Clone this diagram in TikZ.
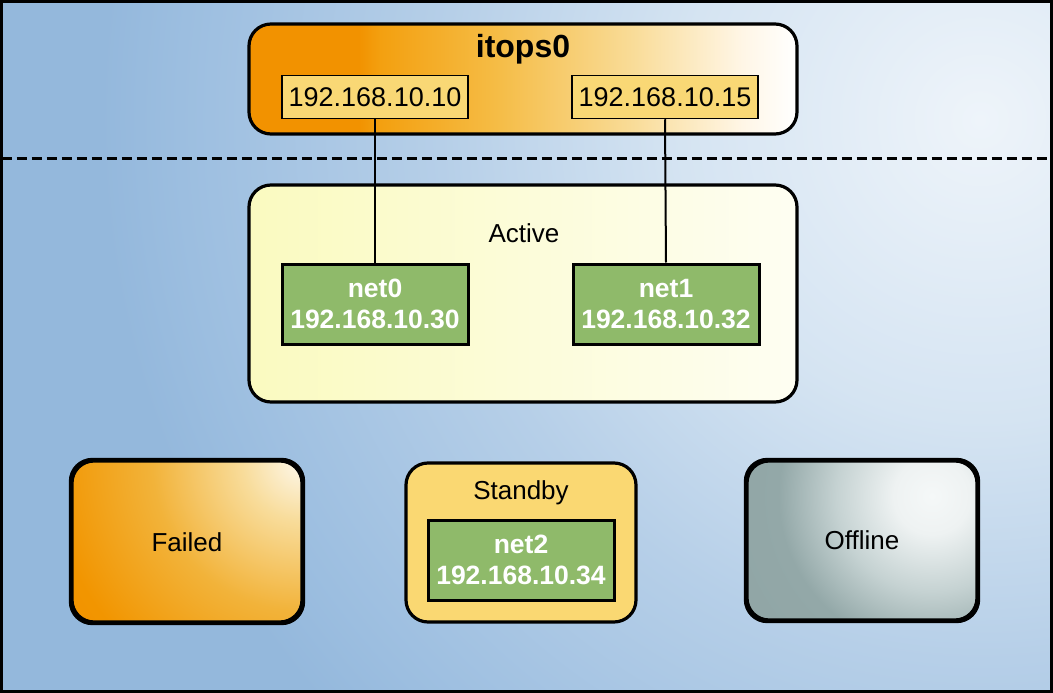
\documentclass[tikz,border=0pt]{standalone}
\usepackage{fontspec}
\setmainfont{Liberation Sans}
\definecolor{bgin}{HTML}{EEF4FA}
\definecolor{bgA}{HTML}{D5E4F2}
\definecolor{bgB}{HTML}{B6CFE8}
\definecolor{bgC}{HTML}{9CBEE0}
\definecolor{bgout}{HTML}{94B8DC}
\definecolor{orA}{HTML}{F29200}
\definecolor{orB}{HTML}{F3A010}
\definecolor{orC}{HTML}{F5BC45}
\definecolor{orD}{HTML}{F9DC98}
\definecolor{orE}{HTML}{FFF6E6}
\definecolor{ipfill}{HTML}{F9D875}
\definecolor{netgreen}{HTML}{8FBA6A}
\definecolor{actL}{HTML}{FAFAC0}
\definecolor{actR}{HTML}{FEFEF2}
\definecolor{stfill}{HTML}{FAD872}
\definecolor{faA}{HTML}{FDF8EC}
\definecolor{faB}{HTML}{F8DC9A}
\definecolor{faC}{HTML}{F2B33A}
\definecolor{faD}{HTML}{F29500}
\definecolor{ofA}{HTML}{F5F8F8}
\definecolor{ofB}{HTML}{EEF2F2}
\definecolor{ofC}{HTML}{C5D2D2}
\definecolor{ofD}{HTML}{93A8A8}
\definecolor{ofE}{HTML}{8CA2A2}
\pgfdeclareradialshading{bgshade}{\pgfpoint{0bp}{0bp}}{color(0bp)=(bgin); color(7.5bp)=(bgA); color(13.5bp)=(bgB); color(20bp)=(bgC); color(22bp)=(bgout); color(50bp)=(bgout)}
\pgfdeclarehorizontalshading{itopshade}{100bp}{color(0bp)=(orA); color(35bp)=(orA); color(37bp)=(orB); color(47.5bp)=(orC); color(60bp)=(orD); color(70bp)=(orE); color(75bp)=(white); color(100bp)=(white)}
\pgfdeclareradialshading{failshade}{\pgfpoint{0bp}{0bp}}{color(0bp)=(faA); color(5bp)=(faB); color(12.5bp)=(faC); color(21bp)=(faD); color(25bp)=(orA); color(50bp)=(orA)}
\pgfdeclareradialshading{offshade}{\pgfpoint{0bp}{0bp}}{color(0bp)=(ofA); color(3bp)=(ofB); color(7.5bp)=(ofC); color(12bp)=(ofD); color(25bp)=(ofE); color(50bp)=(ofE)}
\begin{document}
\begin{tikzpicture}[x=1pt,y=-1pt,
  bigbox/.style={draw=black, line width=3.2pt, rounded corners=22pt, inner sep=0pt},
  ipbox/.style={draw=black, line width=1.5pt, fill=ipfill, minimum width=186pt, minimum height=43pt, inner sep=0pt, font=\fontsize{27}{30}\selectfont},
  netbox/.style={draw=black, line width=3pt, fill=netgreen, minimum width=186pt, minimum height=80pt, inner sep=0pt, text=white, align=center, font=\bfseries\fontsize{26.5}{31}\selectfont},
  lbl/.style={inner sep=0pt, font=\fontsize{26}{30}\selectfont},
  conn/.style={draw=black, line width=2pt},
  dashline/.style={draw=black, line width=3pt, dash pattern=on 10pt off 5pt}]
\useasboundingbox (0,0) rectangle (1053,693);
% background
\begin{scope}
  \clip (1.5,2) rectangle (1051.5,691.5);
  \fill[bgout] (0,0) rectangle (1053,693);
  \shade[shading=bgshade] (980,120) circle (1000pt);
\end{scope}
\draw[black, line width=3pt] (1.5,2) rectangle (1051.5,691.5);
% top group
\node[bigbox, shade, shading=itopshade, minimum width=548pt, minimum height=110pt] (itops) at (523,79) {};
\node[inner sep=0pt, font=\bfseries\fontsize{32}{36}\selectfont] (itopslbl) at (523,49) {itops0};
\node[ipbox] (ip1) at (375,97) {192.168.10.10};
\node[ipbox] (ip2) at (665,97) {192.168.10.15};
% dashed divider
\coordinate (dl) at (1.5,158);
\coordinate (dr) at (1051.5,158);
\draw[dashline] (dl) -- (dr);
% active group
\node[bigbox, left color=actL, right color=actR, minimum width=548pt, minimum height=217pt] (active) at (523,293.5) {};
\node[lbl] (activelbl) at (524,233) {Active};
\node[netbox] (net0) at (375,304) {net0\\192.168.10.30};
\node[netbox] (net1) at (666,304) {net1\\192.168.10.32};
\draw[conn] (ip1.south) -- (net0.north);
\draw[conn] (ip2.south) -- (net1.north);
% bottom groups
\node[bigbox, minimum width=230pt, minimum height=161pt,
  path picture={\shade[shading=failshade] (path picture bounding box.north east) circle (300pt);}] (failed) at (187,541.5) {};
\draw[black, line width=3.2pt, rounded corners=22pt] (failed.north west) rectangle (failed.south east);
\node[lbl] (failedlbl) at (187,542) {Failed};
\node[bigbox, fill=stfill, minimum width=230pt, minimum height=159pt] (standby) at (521,542.5) {};
\node[lbl] (standbylbl) at (521,493) {Standby};
\node[netbox] (net2) at (521,560) {net2\\192.168.10.34};
\node[bigbox, minimum width=230pt, minimum height=159pt,
  path picture={\shade[shading=offshade] ([xshift=-45pt,yshift=-35pt]path picture bounding box.north east) circle (320pt);}] (offline) at (862,540.5) {};
\draw[black, line width=3.2pt, rounded corners=22pt] (offline.north west) rectangle (offline.south east);
\node[lbl] (offlinelbl) at (862,540) {Offline};
\end{tikzpicture}
\end{document}
